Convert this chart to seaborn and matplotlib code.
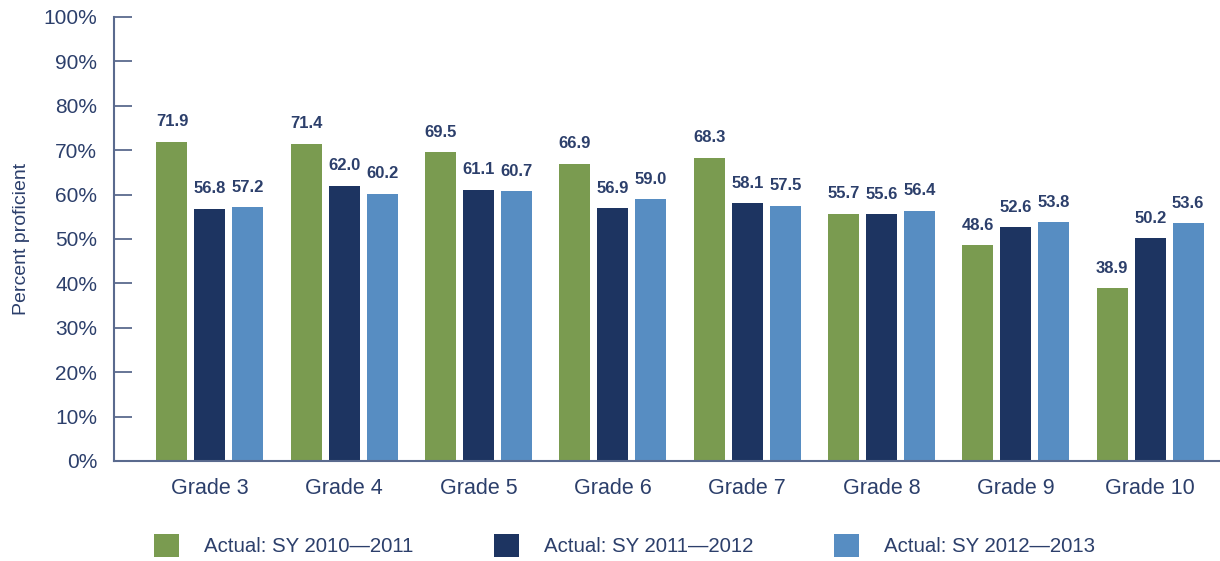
import matplotlib.pyplot as plt
import seaborn as sns
import pandas as pd
from matplotlib.patches import Patch

grades = ["Grade 3", "Grade 4", "Grade 5", "Grade 6", "Grade 7", "Grade 8", "Grade 9", "Grade 10"]
years = ["Actual: SY 2010\u20142011", "Actual: SY 2011\u20142012", "Actual: SY 2012\u20142013"]
sy_2010_2011 = [71.9, 71.4, 69.5, 66.9, 68.3, 55.7, 48.6, 38.9]
sy_2011_2012 = [56.8, 62.0, 61.1, 56.9, 58.1, 55.6, 52.6, 50.2]
sy_2012_2013 = [57.2, 60.2, 60.7, 59.0, 57.5, 56.4, 53.8, 53.6]
colors = ["#7a9b50", "#1d3461", "#578dc2"]
text_color = "#2c3f6b"
axis_color = "#5a6a8e"

df = pd.DataFrame({
    "grade": grades * 3,
    "year": [years[0]] * 8 + [years[1]] * 8 + [years[2]] * 8,
    "value": sy_2010_2011 + sy_2011_2012 + sy_2012_2013,
})

sns.set_style("white")
plt.rcParams['font.family'] = ['Liberation Sans', 'DejaVu Sans']

fig = plt.figure(figsize=(12.2, 5.61), dpi=100)
ax = fig.add_axes([0.0934, 0.1783, 0.9066, 0.7914])

sns.barplot(data=df, x="grade", y="value", hue="year", palette=colors,
            width=0.849, gap=0.184, ax=ax, legend=False, saturation=1, linewidth=0)

for cont in ax.containers:
    ax.bar_label(cont, labels=[f"{v:.1f}" for v in cont.datavalues], padding=9,
                 fontsize=12, fontweight="bold", color=text_color)

ax.set_ylim(0, 100)
ax.set_xlim(-0.715, 7.52)
ax.set_yticks(range(0, 101, 10))
ax.set_yticklabels([f"{v}%" for v in range(0, 101, 10)])
ax.set_xlabel("")
ax.set_ylabel("Percent proficient", fontsize=14, color=text_color, labelpad=10)

for s in ["top", "right"]:
    ax.spines[s].set_visible(False)
for s in ["left", "bottom"]:
    ax.spines[s].set_color(axis_color)
    ax.spines[s].set_linewidth(1.5)

ax.tick_params(axis="y", direction="in", length=13, width=1.3, color=axis_color,
               labelsize=15, labelcolor=text_color, pad=12, left=True)
ax.tick_params(axis="x", length=0, labelsize=15.5, labelcolor=text_color, pad=12)

handles = [Patch(facecolor=c, edgecolor="none", label=y) for c, y in zip(colors, years)]
fig.legend(handles=handles, loc="lower left", bbox_to_anchor=(0.111, -0.025), ncol=3,
           frameon=False, fontsize=14.7, labelcolor=text_color,
           handlelength=1.25, handleheight=1.35, handletextpad=1.2, columnspacing=3.95)

plt.savefig("out.png", dpi=100)
